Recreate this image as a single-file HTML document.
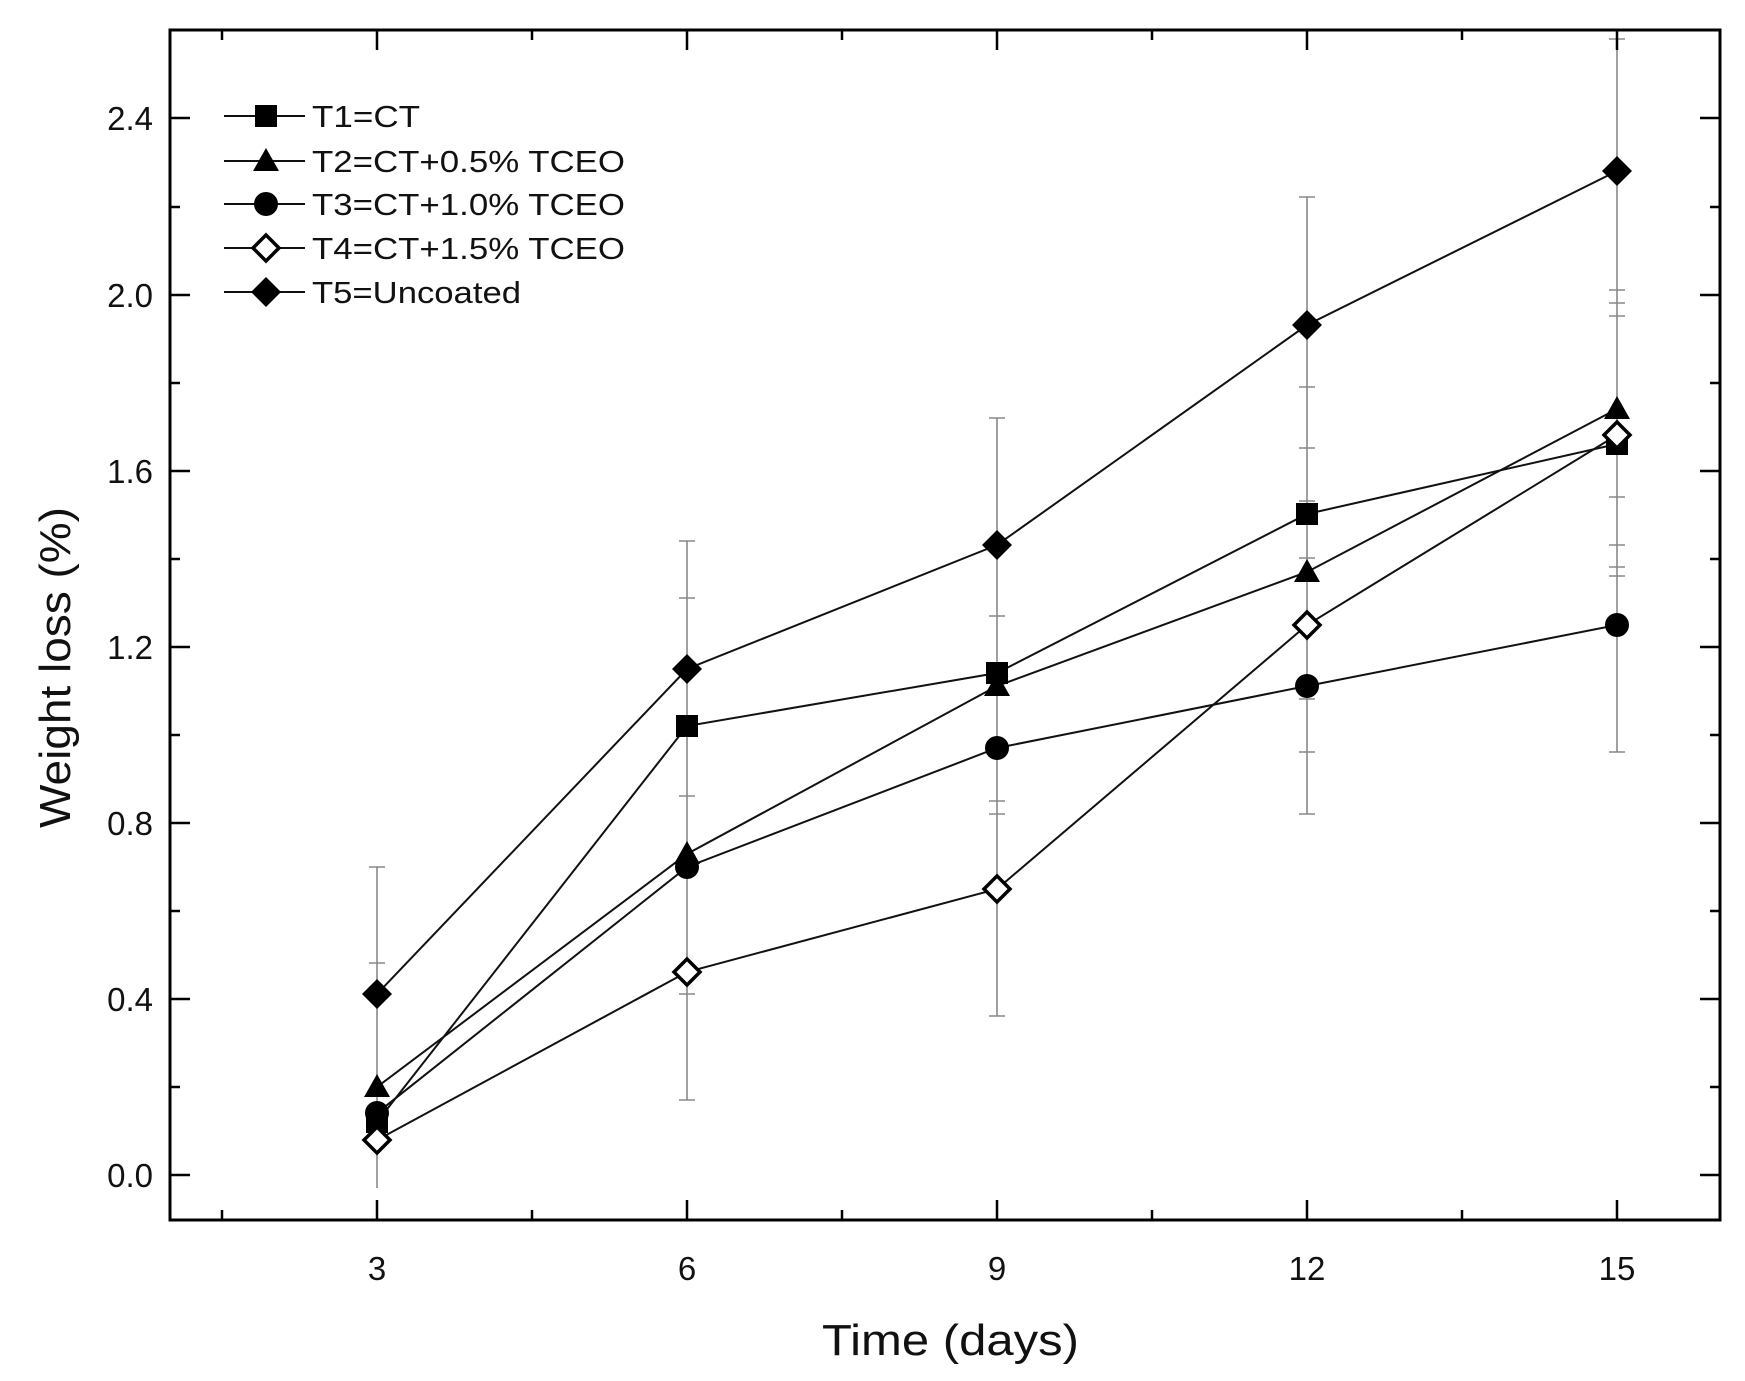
<!DOCTYPE html>
<html><head><meta charset="utf-8"><style>
html,body{margin:0;padding:0;background:#fff;}
svg{display:block;}
text{font-family:"Liberation Sans",Arial,sans-serif;fill:#111;}
</style></head><body>
<svg width="1745" height="1381" viewBox="0 0 1745 1381" xmlns="http://www.w3.org/2000/svg">
<rect width="1745" height="1381" fill="#fff"/>
<g stroke="#888" stroke-width="1.6" fill="none">
<path d="M377 1188V867M369 867h16M369 963h16"/>
<path d="M687 1100V541M679 541h16M679 598h16M679 796h16M679 994h16M679 1100h16"/>
<path d="M997 1016V418M989 418h16M989 616h16M989 801h16M989 814h16M989 1016h16"/>
<path d="M1307 814V197M1299 197h16M1299 387h16M1299 448h16M1299 501h16M1299 558h16M1299 699h16M1299 752h16M1299 814h16"/>
<path d="M1617 752V39M1609 39h16M1609 290h16M1609 303h16M1609 316h16M1609 497h16M1609 545h16M1609 567h16M1609 576h16M1609 752h16"/>
</g>
<g stroke="#111" stroke-width="2" fill="none">
<polyline points="377,1122 687,726 997,673 1307,514 1617,444"/>
<polyline points="377,1087 687,854 997,686 1307,572 1617,409"/>
<polyline points="377,1113 687,867 997,748 1307,686 1617,625"/>
<polyline points="377,1140 687,972 997,889 1307,625 1617,435"/>
<polyline points="377,994 687,669 997,545 1307,325 1617,171"/>
</g>
<g fill="#000">
<rect x="366" y="1111" width="22" height="22"/><rect x="676" y="715" width="22" height="22"/><rect x="986" y="662" width="22" height="22"/><rect x="1296" y="503" width="22" height="22"/><rect x="1606" y="433" width="22" height="22"/>
<path d="M377 1074l13 23h-26zM687 841l13 23h-26zM997 673l13 23h-26zM1307 559l13 23h-26zM1617 396l13 23h-26z"/>
<circle cx="377" cy="1113" r="12"/><circle cx="687" cy="867" r="12"/><circle cx="997" cy="748" r="12"/><circle cx="1307" cy="686" r="12"/><circle cx="1617" cy="625" r="12"/>
<path d="M377 979l15 15-15 15-15-15zM687 654l15 15-15 15-15-15zM997 530l15 15-15 15-15-15zM1307 310l15 15-15 15-15-15zM1617 156l15 15-15 15-15-15z"/>
</g>
<g fill="#fff" stroke="#000" stroke-width="3.5">
<path d="M377 1127l13 13-13 13-13-13zM687 959l13 13-13 13-13-13zM997 876l13 13-13 13-13-13zM1307 612l13 13-13 13-13-13zM1617 422l13 13-13 13-13-13z"/>
</g>
<rect x="170" y="30" width="1550" height="1190" fill="none" stroke="#000" stroke-width="3"/>
<g stroke="#000" stroke-width="2.5">
<path d="M170 1175h20M170 999h20M170 823h20M170 647h20M170 471h20M170 295h20M170 118h20"/>
<path d="M170 1087h10M170 911h10M170 735h10M170 559h10M170 383h10M170 207h10"/>
<path d="M1720 1175h-20M1720 999h-20M1720 823h-20M1720 647h-20M1720 471h-20M1720 295h-20M1720 118h-20"/>
<path d="M1720 1087h-10M1720 911h-10M1720 735h-10M1720 559h-10M1720 383h-10M1720 207h-10"/>
<path d="M377 1220v-20M687 1220v-20M997 1220v-20M1307 1220v-20M1617 1220v-20"/>
<path d="M222 1220v-10M532 1220v-10M842 1220v-10M1152 1220v-10M1462 1220v-10"/>
<path d="M377 30v20M687 30v20M997 30v20M1307 30v20M1617 30v20"/>
<path d="M222 30v10M532 30v10M842 30v10M1152 30v10M1462 30v10"/>
</g>
<g font-size="33" text-anchor="end">
<text x="153" y="1187">0.0</text><text x="153" y="1011">0.4</text><text x="153" y="835">0.8</text><text x="153" y="659">1.2</text><text x="153" y="483">1.6</text><text x="153" y="307">2.0</text><text x="153" y="130">2.4</text>
</g>
<g font-size="33" text-anchor="middle">
<text x="377" y="1280">3</text><text x="687" y="1280">6</text><text x="997" y="1280">9</text><text x="1307" y="1280">12</text><text x="1617" y="1280">15</text>
</g>
<text x="822" y="1355" font-size="44" textLength="257" lengthAdjust="spacingAndGlyphs">Time (days)</text>
<text transform="translate(70 828) rotate(-90)" font-size="44" textLength="321" lengthAdjust="spacingAndGlyphs">Weight loss (%)</text>
<g stroke="#111" stroke-width="2"><path d="M224 116h81M224 161h81M224 204h81M224 248h81M224 292h81"/></g>
<rect x="255" y="105" width="22" height="22"/>
<path d="M266 148l13 23h-26z"/>
<circle cx="266" cy="204" r="12"/>
<path d="M266 235l13 13-13 13-13-13z" fill="#fff" stroke="#000" stroke-width="3.5"/>
<path d="M266 277l15 15-15 15-15-15z"/>
<g font-size="31">
<text x="312" y="127" textLength="108" lengthAdjust="spacingAndGlyphs">T1=CT</text>
<text x="312" y="172" textLength="313" lengthAdjust="spacingAndGlyphs">T2=CT+0.5% TCEO</text>
<text x="312" y="215" textLength="313" lengthAdjust="spacingAndGlyphs">T3=CT+1.0% TCEO</text>
<text x="312" y="259" textLength="313" lengthAdjust="spacingAndGlyphs">T4=CT+1.5% TCEO</text>
<text x="312" y="303" textLength="209" lengthAdjust="spacingAndGlyphs">T5=Uncoated</text>
</g>
</svg>
</body></html>
